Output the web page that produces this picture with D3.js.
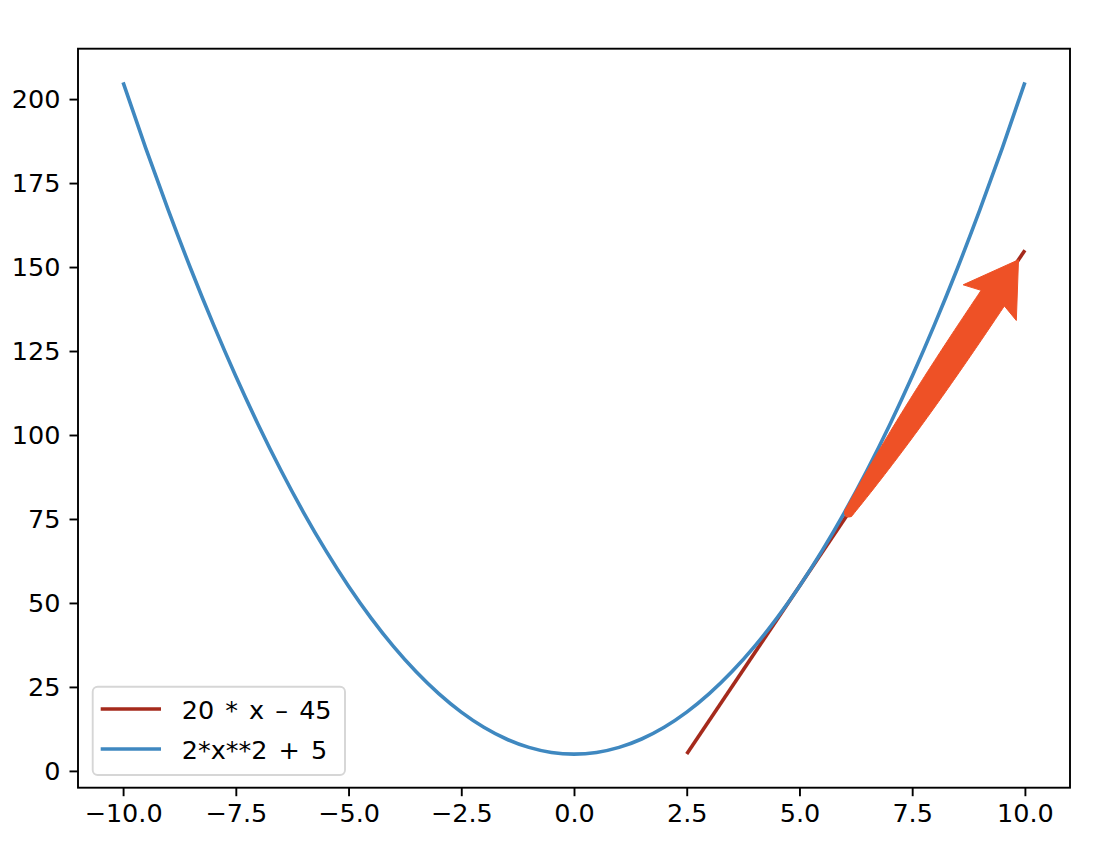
<!DOCTYPE html>
<html><head><meta charset="utf-8">
<script src="https://cdn.jsdelivr.net/npm/d3@7"></script>
<style>html,body{margin:0;padding:0;background:#fff;} svg{display:block;} text{font-family:"DejaVu Sans",sans-serif;}</style>
</head><body>
<svg id="c" width="1120" height="862"></svg>
<script>
// Data
const parabolaX = [-10,-9.5,-9,-8.5,-8,-7.5,-7,-6.5,-6,-5.5,-5,-4.5,-4,-3.5,-3,-2.5,-2,-1.5,-1,-0.5,0,0.5,1,1.5,2,2.5,3,3.5,4,4.5,5,5.5,6,6.5,7,7.5,8,8.5,9,9.5,10];
const parabolaY = [205,185.5,167,149.5,133,117.5,103,89.5,77,65.5,55,45.5,37,29.5,23,17.5,13,9.5,7,5.5,5,5.5,7,9.5,13,17.5,23,29.5,37,45.5,55,65.5,77,89.5,103,117.5,133,149.5,167,185.5,205];
const tangentX = [2.5, 10];
const tangentY = [5, 155];
const arrowFrom = [6, 75];
const arrowTo = [10, 155];
const xTicks = [-10,-7.5,-5,-2.5,0,2.5,5,7.5,10];
const yTicks = [0,25,50,75,100,125,150,175,200];
const legendLabels = ["20 * x \u2013 45", "2*x**2 + 5"];
const xDomain = [-11, 11];
const yDomain = [-5, 215];

const colors = {red:"#a52a1c", blue:"#3f88c0", arrow:"#ee5126"};
const L=78, R=1070, T=48.7, B=787.7;
const svg = d3.select("#c");
const x = d3.scaleLinear().domain(xDomain).range([L,R]);
const y = d3.scaleLinear().domain(yDomain).range([B,T]);
const fs = 25.5;

// lines
const lineGen = d3.line().x(d=>x(d[0])).y(d=>y(d[1]));
svg.append("path").attr("d", lineGen(tangentX.map((v,i)=>[v,tangentY[i]])))
  .attr("fill","none").attr("stroke",colors.red).attr("stroke-width",3.6).attr("stroke-linecap","butt");
svg.append("path").attr("d", lineGen.curve(d3.curveMonotoneX)(parabolaX.map((v,i)=>[v,parabolaY[i]])))
  .attr("fill","none").attr("stroke",colors.blue).attr("stroke-width",3.6).attr("stroke-linecap","butt");

// arrow
(function(){
  const p0=[x(arrowFrom[0]),y(arrowFrom[1])], p1=[x(arrowTo[0]),y(arrowTo[1])];
  const dx=p1[0]-p0[0], dy=p1[1]-p0[1], len=Math.hypot(dx,dy);
  const u=[dx/len,dy/len], n=[-u[1],u[0]];
  const end=[p0[0]+3*u[0], p0[1]+3*u[1]];
  const tip=[p1[0]-11.5*u[0], p1[1]-11.5*u[1]];
  const Ltot=Math.hypot(tip[0]-end[0],tip[1]-end[1]);
  const sj=Ltot-46.2, hb=Ltot-51.6, hw=32;
  const s0=4.5, w0=4.5, w1=14;
  const wf=s=>{const t=Math.min(1,Math.max(0,(s-s0)/(sj-s0)));return w0+(w1-w0)*(1-Math.pow(1-t,2.5));};
  const pt=(s,w)=>[end[0]+u[0]*s+n[0]*w, end[1]+u[1]*s+n[1]*w];
  const left=[], right=[];
  const N=80;
  for(let i=0;i<=N;i++){
    const s=s0+(sj-s0)*i/N;
    const w=wf(s);
    left.push(pt(s,-w)); right.push(pt(s,w));
  }
  const poly=[...left, pt(hb,-hw), pt(Ltot,0), pt(hb,hw), ...right.reverse()];
  const c=pt(s0,0);
  const g=svg.append("g");
  g.append("path").attr("d","M"+poly.map(p=>p.join(",")).join("L")+"Z")
    .attr("fill",colors.arrow).attr("stroke",colors.arrow).attr("stroke-width",1).attr("stroke-linejoin","miter");
  g.append("circle").attr("cx",c[0]).attr("cy",c[1]).attr("r",w0+0.3).attr("fill",colors.arrow);
})();

// axes frame
svg.append("rect").attr("x",L).attr("y",T).attr("width",R-L).attr("height",B-T)
  .attr("fill","none").attr("stroke","#000").attr("stroke-width",1.9);

const xAxis = d3.axisBottom(x).tickValues(xTicks).tickFormat(d3.format(".1f")).tickSize(8.5).tickPadding(8);
const gx = svg.append("g").attr("transform",`translate(0,${B})`).call(xAxis);
gx.select(".domain").remove();
gx.selectAll(".tick line").attr("stroke","#000").attr("stroke-width",1.9);
gx.selectAll(".tick text").attr("font-size",fs).attr("font-family","DejaVu Sans").attr("fill","#000").attr("dy","0.71em");

const yAxis = d3.axisLeft(y).tickValues(yTicks).tickFormat(d3.format("d")).tickSize(8.5).tickPadding(9);
const gy = svg.append("g").attr("transform",`translate(${L},0)`).call(yAxis);
gy.select(".domain").remove();
gy.selectAll(".tick line").attr("stroke","#000").attr("stroke-width",1.9);
gy.selectAll(".tick text").attr("font-size",fs).attr("font-family","DejaVu Sans").attr("fill","#000");

// legend
const lg = svg.append("g");
lg.append("rect").attr("x",92.7).attr("y",686.7).attr("width",252.3).attr("height",88.3).attr("rx",5)
  .attr("fill","#fff").attr("fill-opacity",0.8).attr("stroke","#d6d6d6").attr("stroke-width",1.9);
const lgColors=[colors.red, colors.blue];
legendLabels.forEach((lab,i)=>{
  const yy = 709 + i*40;
  lg.append("line").attr("x1",100.7).attr("x2",161).attr("y1",yy).attr("y2",yy)
    .attr("stroke",lgColors[i]).attr("stroke-width",3.6);
  lg.append("text").attr("x",181.7).attr("y",yy+9.5).attr("font-size",fs).attr("fill","#000")
    .attr("word-spacing","3px").text(lab);
});
</script>
</body></html>
